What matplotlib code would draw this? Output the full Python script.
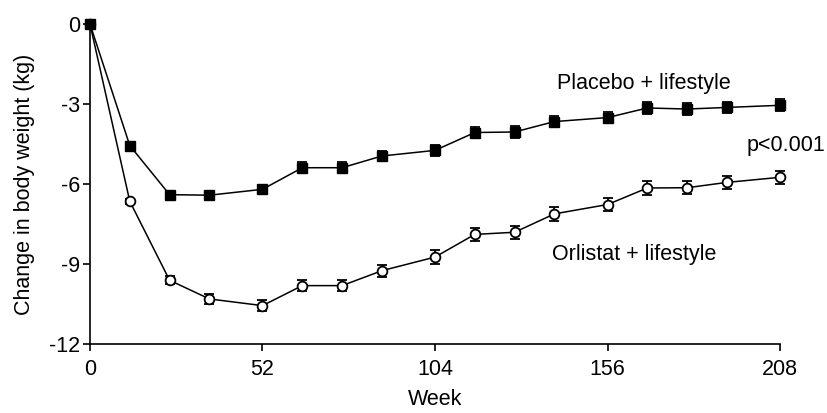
import matplotlib
matplotlib.use("Agg")
import matplotlib.pyplot as plt
import numpy as np

plt.rcParams['font.family'] = ['Liberation Sans', 'DejaVu Sans']

weeks = [0, 12, 24, 36, 52, 64, 76, 88, 104, 116, 128, 140, 156, 168, 180, 192, 208]
placebo = [0, -4.56, -6.40, -6.42, -6.20, -5.39, -5.39, -4.95, -4.74, -4.07, -4.05,
           -3.66, -3.51, -3.15, -3.19, -3.13, -3.05]
placebo_err = [0, 0.1, 0.12, 0.15, 0.18, 0.2, 0.2, 0.2, 0.22, 0.2, 0.22,
               0.22, 0.22, 0.22, 0.22, 0.22, 0.22]
orlistat = [0, -6.65, -9.61, -10.31, -10.56, -9.81, -9.81, -9.25, -8.74, -7.89, -7.81,
            -7.12, -6.77, -6.15, -6.14, -5.94, -5.75]
orlistat_err = [0, 0.1, 0.15, 0.2, 0.22, 0.22, 0.22, 0.22, 0.25, 0.25, 0.25,
                0.25, 0.25, 0.25, 0.25, 0.25, 0.25]

fig = plt.figure(figsize=(8.27, 4.13), dpi=100)
ax = fig.add_axes([0.1088, 0.167, 0.8344, 0.775])

ax.errorbar(weeks, orlistat, yerr=orlistat_err, color='black', lw=1.1,
            marker='o', markersize=7, markerfacecolor='white', markeredgewidth=1.3,
            capsize=3.5, elinewidth=1.3, capthick=1.3, clip_on=False, zorder=3)
ax.errorbar(weeks, placebo, yerr=placebo_err, color='black', lw=1.1,
            marker='s', markersize=7.5, markerfacecolor='black',
            capsize=3.5, elinewidth=1.3, capthick=1.3, clip_on=False, zorder=4)

ax.set_xlim(0, 208)
ax.set_ylim(-12, 0)
ax.set_xticks([0, 52, 104, 156, 208])
ax.set_yticks([0, -3, -6, -9, -12])
ax.set_yticklabels(['0', '-3', '-6', '-9', '-12'])
ax.tick_params(labelsize=15.5, length=5, width=1.2, direction='out', pad=2)
ax.tick_params(axis='x', pad=6)
ax.spines['top'].set_visible(False)
ax.spines['right'].set_visible(False)
ax.spines['left'].set_linewidth(1.2)
ax.spines['bottom'].set_linewidth(1.2)

ax.set_xlabel('Week', fontsize=15.5, labelpad=6)
ax.set_ylabel('Change in body weight (kg)', fontsize=15.5, labelpad=10)

ax.text(167, -2.25, 'Placebo + lifestyle', fontsize=15.5, ha='center', va='center')
ax.text(221.5, -4.55, 'p<0.001', fontsize=15.5, ha='right', va='center', clip_on=False)
ax.text(164, -8.65, 'Orlistat + lifestyle', fontsize=15.5, ha='center', va='center')

fig.savefig('out.png', dpi=100)
